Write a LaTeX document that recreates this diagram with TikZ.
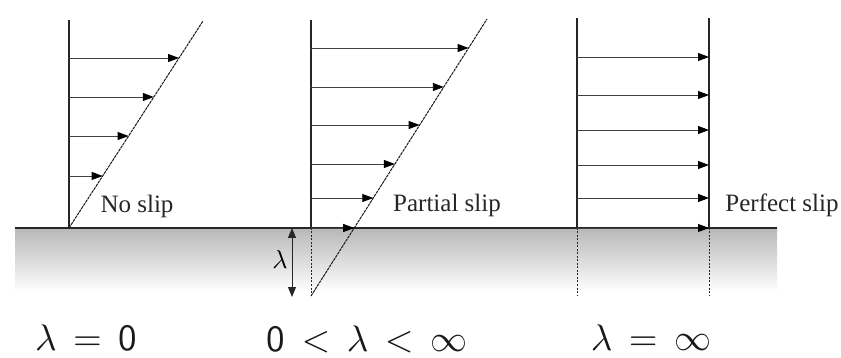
\documentclass[tikz,border=0pt]{standalone}
\usepackage{graphicx}
\usepackage{fontspec}
\setmainfont{Liberation Serif}
\usetikzlibrary{arrows.meta}
\begin{document}
\begin{tikzpicture}[x=1pt,y=-1pt,
  wallline/.style={line width=1.3pt,black!85},
  axisline/.style={line width=1.1pt,black!85},
  profline/.style={line width=1pt,black!90,dash pattern=on 3pt off 0.8pt},
  belowline/.style={line width=1pt,black!85,dash pattern=on 2pt off 1.5pt},
  velarrow/.style={line width=0.9pt,black!75,-{Triangle[length=11pt,width=8pt,color=black]}},
  slipname/.style={font=\fontsize{25}{29}\selectfont,text=black!85,inner sep=0pt},
  caselabel/.style={text=black!90,inner sep=0pt,anchor=base}
]
\useasboundingbox (0,0) rectangle (841,358);
% wall
\shade[top color=black!28,bottom color=white] (15,228) rectangle (777,292);
\coordinate (wl) at (15,228);
\coordinate (wr) at (777,228);
\draw[wallline] (wl) -- (wr);

% ---------- panel 1: no slip
\coordinate (a1t) at (69,20);
\coordinate (a1b) at (69,228);
\coordinate (p1t) at (203,21);
\draw[axisline] (a1b) -- (a1t);
\draw[profline] (a1b) -- (p1t);
\foreach \yy [count=\i] in {58,97,136,176}{
  \coordinate (s1\i) at (69,\yy);
  \coordinate (e1\i) at ({69+(228-\yy)*0.6473},\yy);
  \draw[velarrow] (s1\i) -- (e1\i);
}
\node[slipname] (ns) at (137,206) {No slip};

% ---------- panel 2: partial slip
\coordinate (a2t) at (311,20);
\coordinate (a2w) at (311,228);
\coordinate (a2b) at (311,296);
\coordinate (p2t) at (487,19);
\draw[axisline] (a2w) -- (a2t);
\draw[belowline] (a2w) -- (a2b);
\draw[profline] (a2b) -- (p2t);
\foreach \yy [count=\i] in {48,87,125,164,198,228}{
  \coordinate (s2\i) at (311,\yy);
  \coordinate (e2\i) at ({311+(296-\yy)*0.6354},\yy);
  \draw[velarrow] (s2\i) -- (e2\i);
}
\coordinate (lt) at (292,228);
\coordinate (lb) at (292,297);
\draw[line width=1pt,black!85,{Triangle[length=10pt,width=8pt]}-{Triangle[length=10pt,width=8pt]}] (lt) -- (lb);
\node[inner sep=0pt] (lam) at (280,259) {\scalebox{2.6}{$\lambda$}};
\node[slipname] (ps) at (447,205) {Partial slip};

% ---------- panel 3: perfect slip
\coordinate (a3t) at (577,18);
\coordinate (a3w) at (577,228);
\coordinate (a3b) at (577,296);
\coordinate (b3t) at (709,18);
\coordinate (b3w) at (709,228);
\coordinate (b3b) at (709,296);
\draw[axisline] (a3w) -- (a3t);
\draw[belowline] (a3w) -- (a3b);
\draw[axisline] (b3w) -- (b3t);
\draw[belowline] (b3w) -- (b3b);
\foreach \yy [count=\i] in {57,95,130,165,198,228}{
  \coordinate (s3\i) at (577,\yy);
  \coordinate (e3\i) at (709,\yy);
  \draw[velarrow] (s3\i) -- (e3\i);
}
\node[slipname] (fs) at (782,205) {Perfect slip};

% ---------- case labels
\thickmuskip=8mu
\node[caselabel] (c1) at (86,350) {\scalebox{3.7}{$\lambda = \mathsf{0}$}};
\node[caselabel] (c2) at (367,351) {\scalebox{3.7}{$\mathsf{0} < \lambda < \infty$}};
\node[caselabel] (c3) at (651,350) {\scalebox{3.7}{$\lambda = \infty$}};
\end{tikzpicture}
\end{document}
